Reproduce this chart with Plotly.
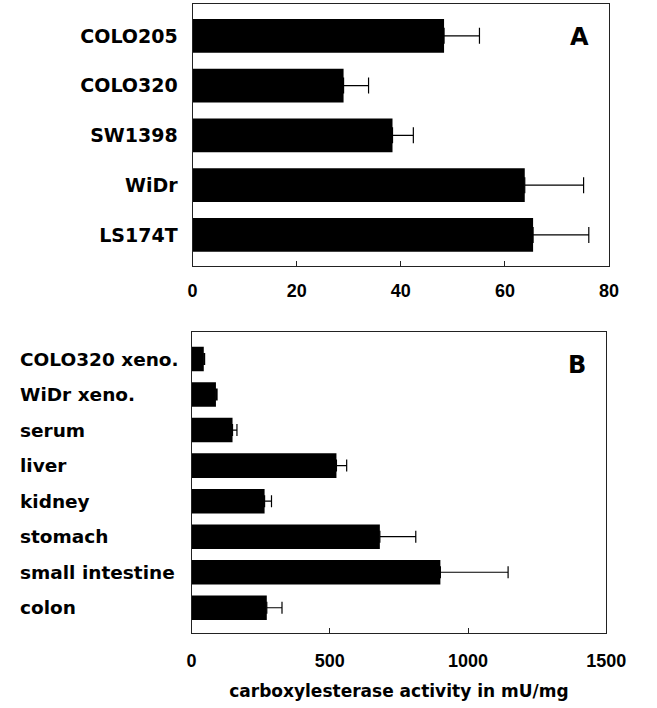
import plotly.graph_objects as go

# Panel A: cell lines
cell_lines = ["COLO205", "COLO320", "SW1398", "WiDr", "LS174T"]
cell_activity = [48.3, 29.0, 38.4, 63.8, 65.4]
cell_error = [6.8, 4.8, 4.0, 11.3, 10.7]

# Panel B: tissues / xenografts
tissues = ["COLO320 xeno.", "WiDr xeno.", "serum", "liver", "kidney",
           "stomach", "small intestine", "colon"]
tissue_activity = [44, 88, 148, 524, 264, 681, 900, 272]
tissue_error = [3, 4, 16, 37, 25, 130, 245, 55]

ticks_a = [0, 20, 40, 60, 80]
ticks_b = [0, 500, 1000, 1500]
x_title = "carboxylesterase activity in mU/mg"

W, H = 657, 708
FONT = "DejaVu Sans"
TICKFONT = "Liberation Sans"

def px_x(p):
    return p / W

def px_y(p):
    return (H - p) / H

fig = go.Figure()

fig.add_trace(go.Bar(
    x=cell_activity, y=cell_lines, orientation="h",
    marker=dict(color="black", line=dict(width=0)),
    width=0.675,
    error_x=dict(type="data", array=cell_error, arrayminus=[0] * len(cell_error),
                 symmetric=False, color="black", thickness=1.2, width=8),
    xaxis="x", yaxis="y", showlegend=False,
))

fig.add_trace(go.Bar(
    x=tissue_activity, y=tissues, orientation="h",
    marker=dict(color="black", line=dict(width=0)),
    width=0.69,
    error_x=dict(type="data", array=tissue_error, arrayminus=[0] * len(tissue_error),
                 symmetric=False, color="black", thickness=1.2, width=6),
    xaxis="x2", yaxis="y2", showlegend=False,
))

axis_common = dict(showline=True, mirror=True, linecolor="#222", linewidth=1.2,
                   showgrid=False, zeroline=False)

fig.update_layout(
    width=W, height=H, autosize=False,
    margin=dict(l=0, r=0, t=0, b=0),
    paper_bgcolor="white", plot_bgcolor="white",
    font=dict(family=FONT, color="black"),
    xaxis=dict(domain=[px_x(195), px_x(628)], anchor="y", range=[0, 80],
               tickvals=ticks_a, ticks="inside", ticklen=5, tickcolor="#222",
               tickfont=dict(size=18, family=TICKFONT, weight="bold"),
               ticklabelstandoff=8, **axis_common),
    yaxis=dict(domain=[px_y(266), px_y(4)], anchor="x", type="category",
               categoryorder="array", categoryarray=cell_lines,
               range=[4.625, -0.64], ticks="",
               tickfont=dict(size=19, family=FONT, weight="bold"),
               ticklabelstandoff=10, **axis_common),
    xaxis2=dict(domain=[px_x(194), px_x(625)], anchor="y2", range=[0, 1500],
                tickvals=ticks_b, ticks="inside", ticklen=5, tickcolor="#222",
                tickfont=dict(size=18, family=TICKFONT, weight="bold"),
                ticklabelstandoff=11,
                title=dict(text=x_title, standoff=15,
                           font=dict(size=17, family=FONT, weight="bold")),
                **axis_common),
    yaxis2=dict(domain=[px_y(633), px_y(332)], anchor="x2", type="category",
                categoryorder="array", categoryarray=tissues,
                range=[7.71, -0.76], ticks="", showticklabels=False,
                **axis_common),
)

annotations = []
for name in tissues:
    annotations.append(dict(x=px_x(13), xref="paper", y=name, yref="y2",
                            text=name, showarrow=False, xanchor="left",
                            yanchor="middle",
                            font=dict(size=18.5, family=FONT, weight="bold")))
annotations.append(dict(x=px_x(597), y=px_y(37), xref="paper", yref="paper",
                        text="A", showarrow=False, xanchor="center", yanchor="middle",
                        font=dict(size=24, family=FONT, weight="bold")))
annotations.append(dict(x=px_x(595), y=px_y(365), xref="paper", yref="paper",
                        text="B", showarrow=False, xanchor="center", yanchor="middle",
                        font=dict(size=24, family=FONT, weight="bold")))
fig.update_layout(annotations=annotations)

fig.write_html(
    "out.html",
    config={"responsive": False, "displayModeBar": False},
    default_width="657px", default_height="708px",
    post_script="document.body.style.margin='0';document.body.style.overflow='hidden';",
)
